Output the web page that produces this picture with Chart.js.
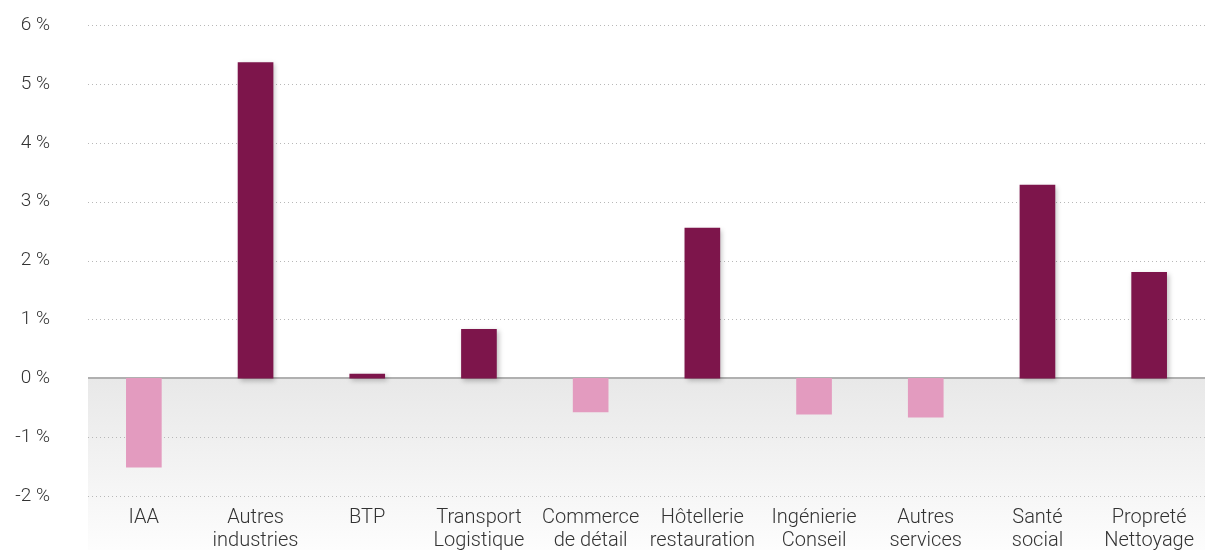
<!DOCTYPE html>
<html>
<head>
<meta charset="utf-8">
<script src="https://cdn.jsdelivr.net/npm/chart.js@4/dist/chart.umd.min.js"></script>
<style>
  body { margin: 0; background: #fff; }
  #wrap { width: 1208px; height: 550px; position: relative; }
</style>
</head>
<body>
<div id="wrap"><canvas id="myBarChart"></canvas></div>
<script>
// Sectors and their change (%)
var sectors = [
  'IAA',
  ['Autres', 'industries'],
  'BTP',
  ['Transport', 'Logistique'],
  ['Commerce', 'de détail'],
  ['Hôtellerie', 'restauration'],
  ['Ingénierie', 'Conseil'],
  ['Autres', 'services'],
  ['Santé', 'social'],
  ['Propreté', 'Nettoyage']
];
var changes = [-1.51, 5.36, 0.07, 0.83, -0.57, 2.55, -0.61, -0.66, 3.28, 1.80];
var yTicks = [-2, -1, 0, 1, 2, 3, 4, 5, 6];

var gains = changes.map(function (v) { return v >= 0 ? v : null; });
var losses = changes.map(function (v) { return v < 0 ? v : null; });

// grey fade under the zero line
var belowZeroBg = {
  id: 'belowZeroBg',
  beforeDraw: function (chart) {
    var ctx = chart.ctx, area = chart.chartArea;
    var y0 = chart.scales.y.getPixelForValue(0);
    var g = ctx.createLinearGradient(0, y0, 0, chart.height);
    g.addColorStop(0, '#e8e8e8');
    g.addColorStop(1, '#fdfdfd');
    ctx.save();
    ctx.fillStyle = g;
    ctx.fillRect(area.left, y0, area.right - area.left, chart.height - y0);
    ctx.restore();
  }
};

// dotted grid lines, solid zero line
var gridLines = {
  id: 'gridLines',
  beforeDatasetsDraw: function (chart) {
    var ctx = chart.ctx, area = chart.chartArea, y = chart.scales.y;
    ctx.save();
    yTicks.forEach(function (v) {
      var py = Math.round(y.getPixelForValue(v));
      ctx.beginPath();
      if (v === 0) {
        ctx.setLineDash([]);
        ctx.strokeStyle = '#b0b0b0';
        ctx.lineWidth = 2;
      } else {
        ctx.setLineDash([1, 3]);
        ctx.strokeStyle = '#b8b8b8';
        ctx.lineWidth = 1;
        py += 0.5;
      }
      ctx.moveTo(area.left, py);
      ctx.lineTo(area.right, py);
      ctx.stroke();
    });
    ctx.restore();
  }
};

// soft shadow on the positive bars only
var barShadow = {
  id: 'barShadow',
  beforeDatasetDraw: function (chart, args) {
    if (args.index !== 0) return;
    var ctx = chart.ctx;
    ctx.save();
    ctx.shadowColor = 'rgba(0,0,0,0.25)';
    ctx.shadowBlur = 5;
    ctx.shadowOffsetX = 2;
    ctx.shadowOffsetY = 2;
  },
  afterDatasetDraw: function (chart, args) {
    if (args.index !== 0) return;
    chart.ctx.restore();
  }
};

var ctx = document.getElementById('myBarChart').getContext('2d');
var myBarChart = new Chart(ctx, {
  type: 'bar',
  data: {
    labels: sectors,
    datasets: [{
      data: gains,
      backgroundColor: '#7d154b',
      barThickness: 35
    }, {
      data: losses,
      backgroundColor: '#e39bbf',
      barThickness: 35
    }]
  },
  options: {
    responsive: true,
    maintainAspectRatio: false,
    animation: false,
    layout: { padding: { top: 25, right: 3, bottom: -12 } },
    scales: {
      x: {
        stacked: true,
        grid: { display: false, drawTicks: false },
        border: { display: false },
        ticks: {
          color: '#333',
          font: { family: 'Roboto', size: 20, weight: 300, lineHeight: 1.15 },
          padding: 10,
          maxRotation: 0,
          autoSkip: false
        }
      },
      y: {
        min: -2,
        max: 6,
        afterBuildTicks: function (axis) {
          axis.ticks = yTicks.map(function (v) { return { value: v }; });
        },
        afterFit: function (axis) {
          axis.width = 88;
          axis.paddingTop = 0;
          axis.paddingBottom = 0;
        },
        border: { display: false },
        grid: { display: false, drawTicks: false },
        ticks: {
          color: '#333',
          font: { family: 'Roboto', size: 19, weight: 300 },
          padding: 38,
          callback: function (v) { return v + ' %'; }
        }
      }
    },
    plugins: {
      legend: { display: false },
      tooltip: { enabled: false }
    }
  },
  plugins: [belowZeroBg, gridLines, barShadow]
});
</script>
</body>
</html>
